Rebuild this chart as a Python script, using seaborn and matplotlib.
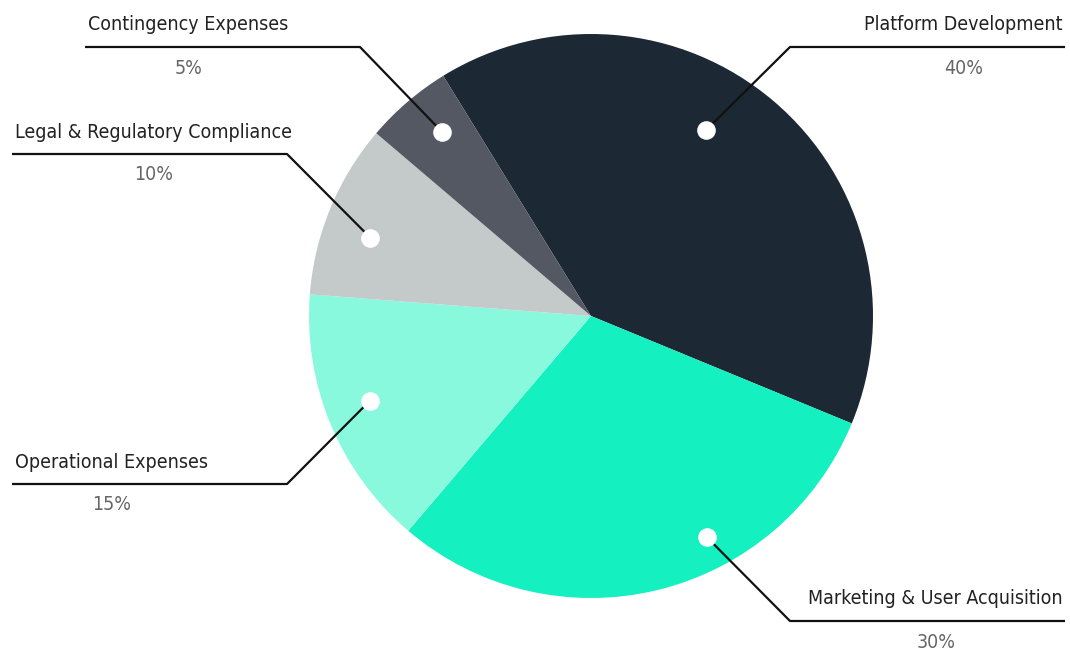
import numpy as np
import matplotlib
matplotlib.use("Agg")
import matplotlib.pyplot as plt
import seaborn as sns

# ---- data ----
categories = ["Platform Development", "Marketing & User Acquisition",
              "Operational Expenses", "Legal & Regulatory Compliance",
              "Contingency Expenses"]
values = [40, 30, 15, 10, 5]
pct_labels = ["40%", "30%", "15%", "10%", "5%"]
colors = ["#1c2833", "#15f0c1", "#89f9dd", "#c4c9c9", "#545862"]

# ---- layout (pixel space, y measured from bottom) ----
W, H = 1070, 650
center = (591, 334)
radius = 282
start_angle = 121.6
# where inside each wedge the marker dot sits: (fraction along wedge clockwise, radial fraction)
dot_pos = [(0.44, 0.775), (0.37, 0.885), (0.53, 0.84), (0.42, 0.83), (0.59, 0.84)]
# inner end of the horizontal label rule, and side
rule_anchor = [(790, 603, "right"), (790, 29, "right"), (287, 166, "left"),
               (287, 496, "left"), (360, 603, "left")]
rule_len = 275

sns.set_theme(style="white")
plt.rcParams["font.family"] = ["DejaVu Sans"]

fig = plt.figure(figsize=(W / 100, H / 100), dpi=100)
ax = fig.add_axes([0, 0, 1, 1])
wedges, _ = ax.pie(values, colors=colors, startangle=start_angle, counterclock=False,
                   center=center, radius=radius,
                   wedgeprops=dict(linewidth=0, edgecolor="none"))
ax.set_xlim(0, W)
ax.set_ylim(0, H)
ax.set_aspect("equal")
ax.axis("off")

txt_kw = dict(fontsize=14, fontstretch="condensed", fontweight="medium")
for w, (f, rf), (ax_x, ax_y, side), name, pct in zip(wedges, dot_pos, rule_anchor,
                                                      categories, pct_labels):
    t1, t2 = w.theta1, w.theta2
    ang = np.deg2rad(t2 - f * (t2 - t1))
    dx = center[0] + rf * radius * np.cos(ang)
    dy = center[1] + rf * radius * np.sin(ang)
    if side == "right":
        x_out = ax_x + rule_len
        ha = "right"
        tx = x_out - 2
    else:
        x_out = ax_x - rule_len
        ha = "left"
        tx = x_out + 3
    ax.plot([dx, ax_x, x_out], [dy, ax_y, ax_y], color="#111111", lw=1.6,
            solid_capstyle="butt", zorder=3)
    ax.scatter([dx], [dy], s=180, color="white", zorder=4, linewidths=0)
    t = ax.text(tx, ax_y + 22, name, ha=ha, va="center", color="#222222",
                zorder=5, **txt_kw)
    fig.canvas.draw()
    bb = t.get_window_extent().transformed(ax.transData.inverted())
    cx = (bb.x0 + bb.x1) / 2
    ax.text(cx, ax_y - 21, pct, ha="center", va="center", color="#666666",
            zorder=5, **txt_kw)

fig.savefig("out.png", dpi=100, facecolor="white")
